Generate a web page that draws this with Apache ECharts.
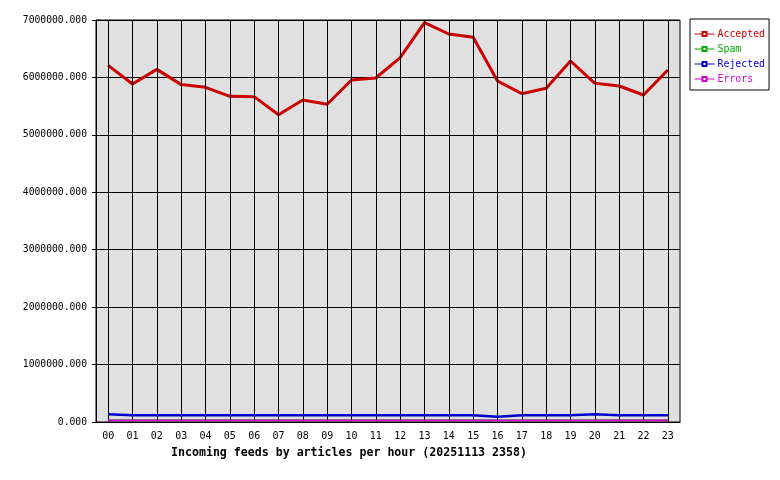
<!DOCTYPE html>
<html>
<head>
<meta charset="utf-8">
<script src="https://cdn.jsdelivr.net/npm/echarts@6/dist/echarts.min.js"></script>
<style>html,body{margin:0;padding:0;background:#fff}#c{width:780px;height:480px}</style>
</head>
<body>
<div id="c"></div>
<script>
var hours = ['00','01','02','03','04','05','06','07','08','09','10','11','12','13','14','15','16','17','18','19','20','21','22','23'];
var accepted = [6210000,5885000,6140000,5875000,5828000,5671000,5665000,5351000,5607000,5532000,5955000,5990000,6344000,6953000,6756000,6698000,5938000,5717000,5810000,6286000,5897000,5851000,5694000,6129000];
var spam = [25000,25000,25000,25000,25000,25000,25000,25000,25000,25000,25000,25000,25000,25000,25000,25000,25000,25000,25000,25000,25000,25000,25000,25000];
var rejected = [134000,117000,117000,117000,117000,117000,117000,117000,117000,117000,117000,117000,117000,117000,117000,117000,92000,117000,117000,117000,134000,117000,117000,117000];
var errors = [25000,25000,25000,25000,25000,25000,25000,25000,25000,25000,25000,25000,25000,25000,25000,25000,25000,25000,25000,25000,25000,25000,25000,25000];
var yTicks = {min: 0, max: 7000000, interval: 1000000};
var titleText = 'Incoming feeds by articles per hour (20251113 2358)';

var mono = 'DejaVu Sans Mono';
var colors = {Accepted:'#cc0000', Spam:'#00aa00', Rejected:'#0000cc', Errors:'#cc00cc'};

var chart = echarts.init(document.getElementById('c'), null, {renderer:'canvas'});
function mkSeries(name, data, width, z) {
  return {
    name: name, type: 'line', data: data, z: z,
    symbol: 'emptyRect', symbolSize: 4, showSymbol: false,
    lineStyle: {color: colors[name], width: width},
    itemStyle: {color: colors[name], borderColor: colors[name]},
    emphasis: {disabled: true}, animation: false
  };
}
var spamSeries = mkSeries('Spam', spam, 2, 3);
spamSeries.markLine = {
  silent: true, symbol: 'none', animation: false,
  label: {show: false},
  lineStyle: {color: '#000', width: 1, type: 'solid'},
  emphasis: {disabled: true},
  data: hours.map(function (h) { return {xAxis: h}; })
};
spamSeries.z = 1;

chart.setOption({
  backgroundColor: '#fff',
  animation: false,
  title: {
    text: titleText, left: 166, top: 442,
    textStyle: {fontFamily: mono, fontSize: 11.6, fontWeight: 'bold', color: '#000'}
  },
  legend: {
    orient: 'vertical', left: 690, top: 19,
    padding: [9, 4, 5, 4], itemGap: 3, itemWidth: 20, itemHeight: 5,
    backgroundColor: '#fff', borderColor: '#000', borderWidth: 1, borderRadius: 0,
    selectedMode: false,
    lineStyle: {width: 1},
    itemStyle: {borderWidth: 1},
    textStyle: {fontFamily: mono, fontSize: 9.9, lineHeight: 12, padding: [0, 0, 0, -2]},
    data: ['Accepted','Spam','Rejected','Errors'].map(function (n) {
      return {name: n, textStyle: {color: colors[n]}};
    })
  },
  grid: {
    left: 96, right: 100, top: 20, bottom: 58, containLabel: false,
    show: true, backgroundColor: '#e0e0e0', borderColor: '#000', borderWidth: 1
  },
  xAxis: {
    type: 'category', data: hours, boundaryGap: true,
    axisLine: {lineStyle: {color: '#000', width: 1}},
    axisTick: {show: false},
    splitLine: {show: false},
    axisLabel: {fontFamily: mono, fontSize: 10, color: '#000', margin: 9, interval: 0}
  },
  yAxis: {
    type: 'value', min: yTicks.min, max: yTicks.max, interval: yTicks.interval,
    axisLine: {show: true, lineStyle: {color: '#000', width: 1}},
    axisTick: {show: true, length: 4, lineStyle: {color: '#000'}},
    splitLine: {show: true, lineStyle: {color: '#000', width: 1}},
    axisLabel: {fontFamily: mono, fontSize: 9.7, color: '#000', margin: 9,
      formatter: function (v) { return v.toFixed(3); }}
  },
  series: [
    mkSeries('Accepted', accepted, 3, 4),
    spamSeries,
    mkSeries('Rejected', rejected, 2.5, 5),
    mkSeries('Errors', errors, 2, 6)
  ]
});
</script>
</body>
</html>
